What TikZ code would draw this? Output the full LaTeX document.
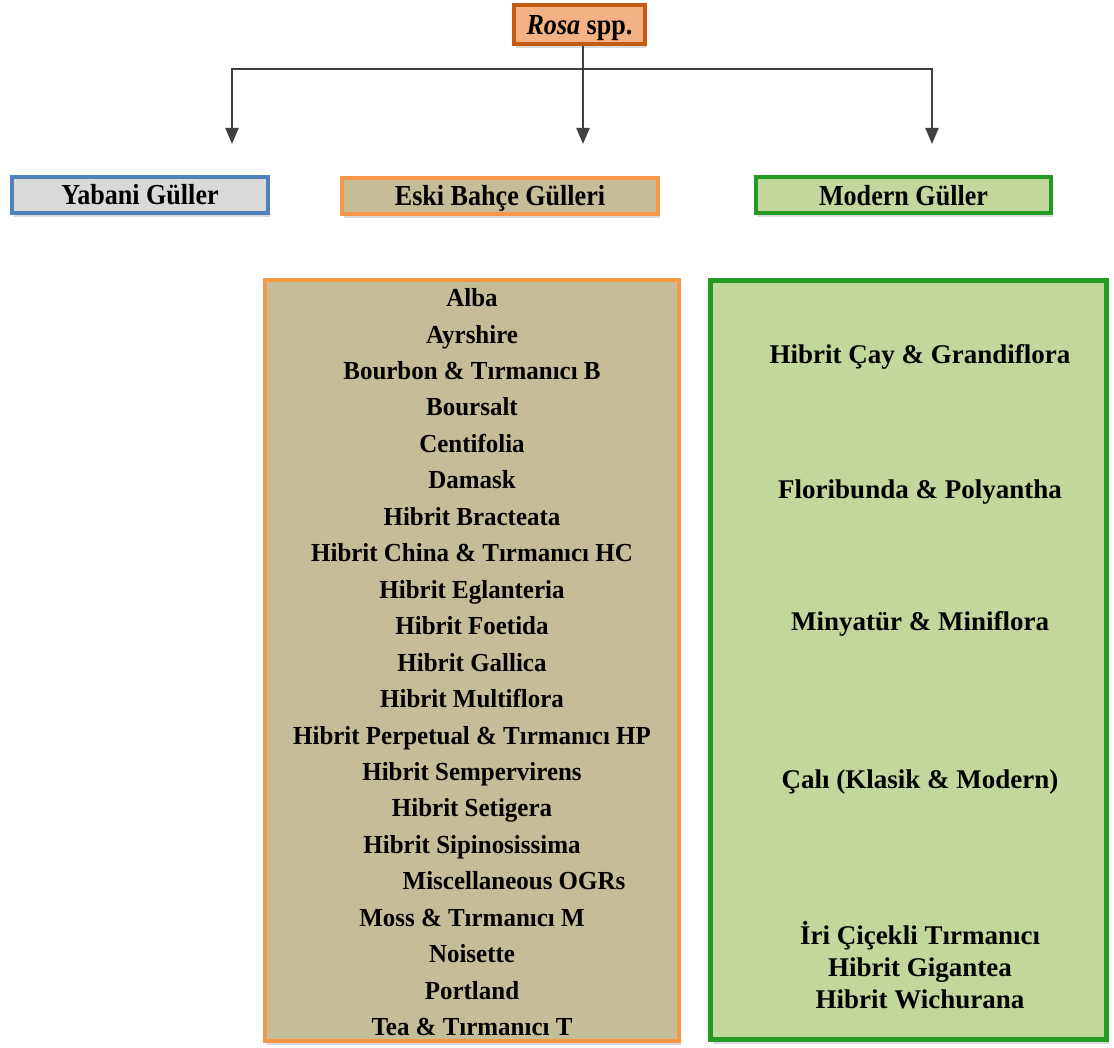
\documentclass[tikz,border=0pt]{standalone}
\usepackage{fontspec}
\setmainfont{Liberation Serif}
\newfontfamily\headfont[FakeStretch=0.9]{Liberation Serif}
\newfontfamily\listfont[FakeStretch=0.96]{Liberation Serif}
\usepackage{tikz}
\usetikzlibrary{arrows.meta}
\usetikzlibrary{shadows}
\definecolor{rosafill}{HTML}{F4B183}
\definecolor{rosaline}{HTML}{C55A11}
\definecolor{yabanifill}{HTML}{D9D9D9}
\definecolor{yabaniline}{HTML}{4F81BD}
\definecolor{eskifill}{HTML}{C4BD97}
\definecolor{eskiline}{HTML}{F79646}
\definecolor{modernfill}{HTML}{C3D69B}
\definecolor{modernline}{HTML}{239B23}
\colorlet{linkgray}{black!75}
\tikzset{
	box/.style={draw, line width=4pt, inner sep=0pt,
		drop shadow={opacity=0.3, shadow xshift=2pt, shadow yshift=-4pt}},
	headtext/.style={font=\headfont\bfseries\fontsize{29}{32}\selectfont,
		text height=19.2pt, text depth=0pt},
	headbox/.style={box, headtext, minimum height=36pt},
	listtext/.style={font=\listfont\bfseries\fontsize{26}{28}\selectfont,
		text height=17.2pt, text depth=0pt, inner sep=0pt},
	modtext/.style={font=\bfseries\fontsize{27}{29}\selectfont,
		text height=17.9pt, text depth=0pt, inner sep=0pt},
	link/.style={draw=linkgray, line width=2pt},
	arrowlink/.style={link, -{Triangle[length=16pt, width=13pt]}, shorten >=-1pt}
}
\begin{document}
\begin{tikzpicture}[x=1pt, y=-1pt]
	\useasboundingbox (0,0) rectangle (1114,1048);
	% root and the three groups
	\node[box, headtext, fill=rosafill, draw=rosaline, minimum width=131pt, minimum height=39pt]
		(rosa) at (579.5,24.5) {\textit{Rosa} spp.};
	\node[headbox, fill=yabanifill, draw=yabaniline, minimum width=256pt] (yabani) at (140,195) {Yabani Güller};
	\node[headbox, fill=eskifill, draw=eskiline, minimum width=316pt] (eski) at (500,196) {Eski Bahçe Gülleri};
	\node[headbox, fill=modernfill, draw=modernline, minimum width=295pt] (modern) at (903.5,195.5) {Modern Güller};
	% connectors
	\coordinate (bar) at (583,69);
	\coordinate (yabanitip) at (232,143);
	\coordinate (eskitip) at (583,143);
	\coordinate (moderntip) at (932,143);
	\draw[link] (rosa.south -| bar) -- (bar);
	\draw[arrowlink] (bar) -| (yabanitip);
	\draw[arrowlink] (bar) -- (eskitip);
	\draw[arrowlink] (bar) -| (moderntip);
	% lists
	\node[box, fill=eskifill, draw=eskiline, minimum width=414pt, minimum height=761pt] (eskilist) at (472,660.5) {};
	\node[box, fill=modernfill, draw=modernline, line width=5pt, minimum width=396pt, minimum height=759pt] (modernlist) at (908.5,660) {};
	\foreach \name [count=\i from 0] in {Alba, Ayrshire, Bourbon \& Tırmanıcı B, Boursalt, Centifolia, Damask,
		Hibrit Bracteata, Hibrit China \& Tırmanıcı HC, Hibrit Eglanteria, Hibrit Foetida, Hibrit Gallica,
		Hibrit Multiflora, Hibrit Perpetual \& Tırmanıcı HP, Hibrit Sempervirens, Hibrit Setigera,
		Hibrit Sipinosissima, {\hspace*{84pt}Miscellaneous OGRs}, Moss \& Tırmanıcı M, Noisette, Portland,
		Tea \& Tırmanıcı T}
		\node[listtext] (eski-\i) at (472,298+36.45*\i) {\name};
	\node[modtext] (cay) at (920,355) {Hibrit Çay \& Grandiflora};
	\node[modtext] (flori) at (920,490) {Floribunda \& Polyantha};
	\node[modtext] (mini) at (920,622) {Minyatür \& Miniflora};
	\node[modtext] (cali) at (920,780) {Çalı (Klasik \& Modern)};
	\node[modtext] (iri) at (920,936) {İri Çiçekli Tırmanıcı};
	\node[modtext] (gigantea) at (920,968) {Hibrit Gigantea};
	\node[modtext] (wichurana) at (920,1000) {Hibrit Wichurana};
\end{tikzpicture}
\end{document}
